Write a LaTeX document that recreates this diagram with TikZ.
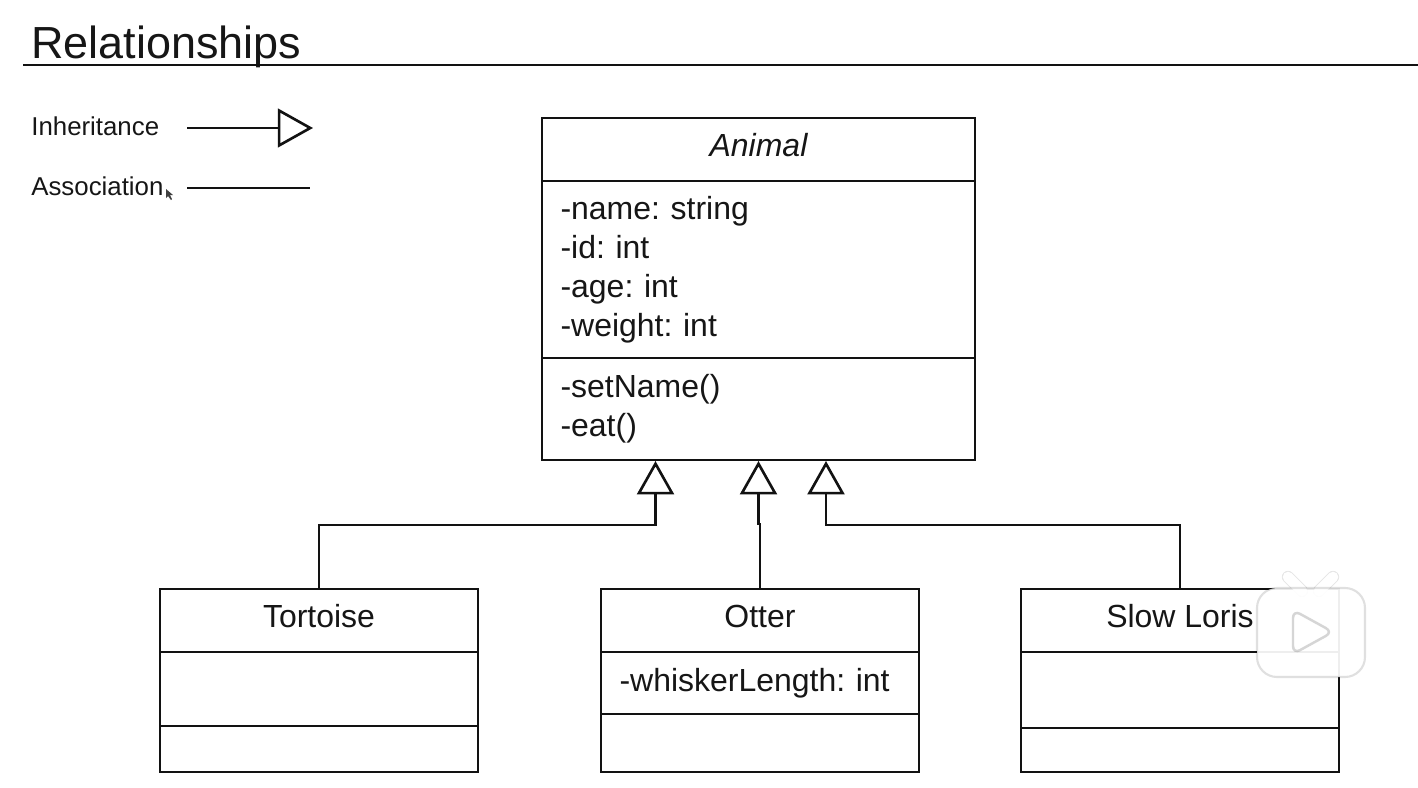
\documentclass[tikz,border=0pt]{standalone}
\usepackage{fontspec}
\setmainfont{Liberation Sans}
\usepackage{xcolor}
\usetikzlibrary{arrows.meta,positioning,calc}
\definecolor{linecolor}{RGB}{18,18,18}
\definecolor{inkcolor}{RGB}{22,22,22}

\begin{document}
\begin{tikzpicture}[x=0.02cm,y=-0.02cm,
  compartment/.style={rectangle, draw=linecolor, line width=1.5pt, inner sep=0pt, text=inkcolor, font=\frenchspacing\fontsize{18.2}{22.1}\selectfont},
  classname/.style={compartment, minimum height=1.26cm, text depth=0.17cm},
  members/.style={compartment, align=left, text width=#1, inner xsep=0.37cm},
  legendtext/.style={inner sep=0pt, text=inkcolor, font=\fontsize{14.7}{18}\selectfont},
  wire/.style={draw=linecolor, line width=1.5pt},
  inherit/.style={wire, -{Triangle[open, length=19pt, width=21pt, line width=1.5pt]}},
  legendtip/.style={wire, -{Triangle[open, length=20pt, width=22pt, line width=1.5pt]}},
  badge/.style={fill=white, fill opacity=0.93, draw=black, draw opacity=0.12, line width=1.2pt}
]
\useasboundingbox (0,0) rectangle (1418,788);

% Heading
\node[anchor=west, inner sep=0pt, text=inkcolor, font=\fontsize{25.6}{30}\selectfont] (heading) at (31,47) {Relationships};
\coordinate (ruleleft) at (23,65);
\coordinate (ruleright) at (1418,65);
\draw[wire] (ruleleft) -- (ruleright);

% Legend
\node[legendtext, anchor=west] (inhlabel) at (31,126) {Inheritance};
\node[legendtext, anchor=west] (asslabel) at (31,186) {Association};
\coordinate (inhstart) at (187,128);
\coordinate (inhend) at (313,128);
\coordinate (assstart) at (187,188);
\coordinate (assend) at (310,188);
\draw[legendtip] (inhstart) -- (inhend);
\draw[wire] (assstart) -- (assend);
\fill[black!75] (166,189) -- (166,198) -- (168,196) -- (171,200) -- (172,199) -- (170,195) -- (173,195) -- cycle;

% Animal
\node[classname, minimum width=8.66cm] (animal) at (758.5,149.5) {\itshape Animal};
\node[members=7.92cm, minimum height=3.54cm] (animalattr) at (758.5,269.5) {-name: string\\-id: int\\-age: int\\-weight: int};
\node[members=7.92cm, minimum height=2.04cm] (animalops) at (758.5,409) {-setName()\\-eat()};

% Tortoise
\node[classname, minimum width=6.36cm] (tortoise) at (319,620.5) {Tortoise};
\node[compartment, minimum width=6.36cm, minimum height=1.48cm] (tortoiseattr) at (319,689) {};
\node[compartment, minimum width=6.36cm, minimum height=0.92cm] (tortoiseops) at (319,749) {};

% Otter
\node[classname, minimum width=6.36cm] (otter) at (760,620.5) {Otter};
\node[members=5.62cm, minimum height=1.24cm] (otterattr) at (760,683) {-whiskerLength: int};
\node[compartment, minimum width=6.36cm, minimum height=1.16cm] (otterops) at (760,743) {};

% Slow Loris
\node[classname, minimum width=6.36cm] (loris) at (1180,620.5) {Slow Loris};
\node[compartment, minimum width=6.36cm, minimum height=1.52cm] (lorisattr) at (1180,690) {};
\node[compartment, minimum width=6.36cm, minimum height=0.88cm] (lorisops) at (1180,750) {};

% Inheritance arrows
\coordinate (tipa) at (655.5,461);
\coordinate (tipb) at (758.5,461);
\coordinate (tipc) at (826,461);
\coordinate (benda) at (655.5,525);
\coordinate (bendb) at (758.5,524);
\coordinate (bendc) at (826,525);
\draw[inherit] (tortoise.north) |- (benda) -- (tipa);
\draw[inherit] (otter.north) |- (bendb) -- (tipb);
\draw[inherit] (loris.north) |- (bendc) -- (tipc);

% Player badge
\draw[black, line width=7pt, line cap=round, opacity=0.1] (1288,577) -- (1302,591);
\draw[black, line width=7pt, line cap=round, opacity=0.1] (1333,577) -- (1319,591);
\draw[white, line width=6pt, line cap=round] (1288,577) -- (1302,591);
\draw[white, line width=6pt, line cap=round] (1333,577) -- (1319,591);
\draw[badge, rounded corners=0.4cm] (1257,588) rectangle (1365,677);
\draw[badge, draw opacity=0.16, line width=1.4pt, rounded corners=0.16cm] (1293,610) -- (1333,632) -- (1293,654) -- cycle;
\end{tikzpicture}
\end{document}
